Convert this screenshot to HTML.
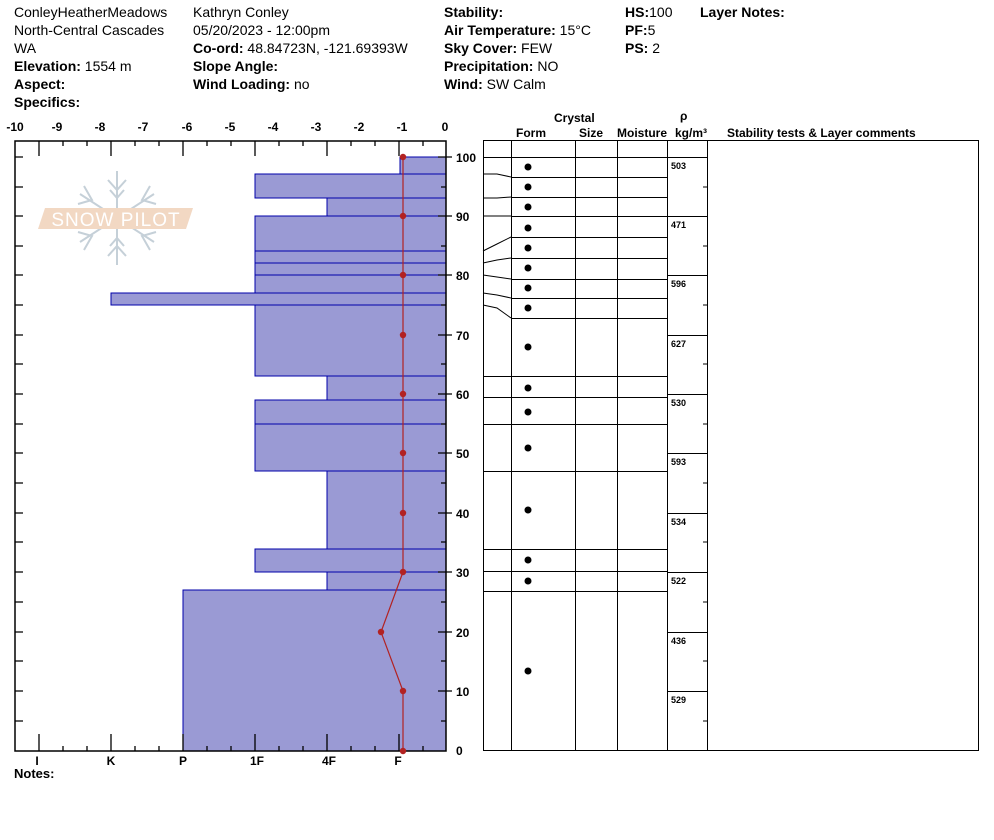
<!DOCTYPE html>
<html><head><meta charset="utf-8"><style>
html,body{margin:0;padding:0;background:#fff;}
svg{display:block;}
text{font-family:"Liberation Sans",Arial,sans-serif;fill:#000;}
.h{font-size:14px;}
.b{font-weight:bold;}
.t{font-size:12px;font-weight:bold;}
.s{font-size:9px;font-weight:bold;}
</style></head><body>
<svg width="994" height="840" viewBox="0 0 994 840" xmlns="http://www.w3.org/2000/svg">
<g class="h">
<text x="14" y="17" class="h">ConleyHeatherMeadows</text>
<text x="14" y="35" class="h">North-Central Cascades</text>
<text x="14" y="53" class="h">WA</text>
<text x="14" y="71" class="h"><tspan class="b">Elevation:</tspan> 1554 m</text>
<text x="14" y="89" class="h b">Aspect:</text>
<text x="14" y="107" class="h b">Specifics:</text>
<text x="193" y="17" class="h">Kathryn Conley</text>
<text x="193" y="35" class="h">05/20/2023 - 12:00pm</text>
<text x="193" y="53" class="h"><tspan class="b">Co-ord:</tspan> 48.84723N, -121.69393W</text>
<text x="193" y="71" class="h b">Slope Angle:</text>
<text x="193" y="89" class="h"><tspan class="b">Wind Loading:</tspan> no</text>
<text x="444" y="17" class="h b">Stability:</text>
<text x="444" y="35" class="h"><tspan class="b">Air Temperature:</tspan> 15°C</text>
<text x="444" y="53" class="h"><tspan class="b">Sky Cover:</tspan> FEW</text>
<text x="444" y="71" class="h"><tspan class="b">Precipitation:</tspan> NO</text>
<text x="444" y="89" class="h"><tspan class="b">Wind:</tspan>  SW Calm</text>
<text x="625" y="17" class="h"><tspan class="b">HS:</tspan>100</text>
<text x="625" y="35" class="h"><tspan class="b">PF:</tspan>5</text>
<text x="625" y="53" class="h"><tspan class="b">PS:</tspan> 2</text>
<text x="700" y="17" class="h b">Layer Notes:</text>
</g>

<g stroke="#c5d0d8" stroke-width="2" fill="none">
<line x1="117" y1="171" x2="117" y2="265"/>
<line x1="80" y1="194" x2="154" y2="242"/>
<line x1="80" y1="242" x2="154" y2="194"/>
<path d="M108 180 L117 190 L126 180 M110 190 L117 198 L124 190 M108 256 L117 246 L126 256 M110 246 L117 238 L124 246"/>
<path d="M84 186 L92 200 L78 204 M150 186 L142 200 L156 204 M84 250 L92 236 L78 232 M150 250 L142 236 L156 232"/>
</g>
<polygon points="45,208 193,208 186,229 38,229" fill="#f2d8c3"/>
<text x="116" y="226" text-anchor="middle" style="font-size:19px;fill:#fff;letter-spacing:1px;">SNOW PILOT</text>

<g fill="#9a9ad4" stroke="#0000aa" stroke-width="1">
<rect x="400" y="157" width="46" height="17"/>
<rect x="255" y="174" width="191" height="24"/>
<rect x="327" y="198" width="119" height="18"/>
<rect x="255" y="216" width="191" height="35"/>
<rect x="255" y="251" width="191" height="12"/>
<rect x="255" y="263" width="191" height="12"/>
<rect x="255" y="275" width="191" height="18"/>
<rect x="111" y="293" width="335" height="12"/>
<rect x="255" y="305" width="191" height="71"/>
<rect x="327" y="376" width="119" height="24"/>
<rect x="255" y="400" width="191" height="24"/>
<rect x="255" y="424" width="191" height="47"/>
<rect x="327" y="471" width="119" height="78"/>
<rect x="255" y="549" width="191" height="23"/>
<rect x="327" y="572" width="119" height="18"/>
<rect x="183" y="590" width="263" height="161"/>
</g>

<g stroke="#000" stroke-width="1.5" fill="none">
<path d="M15 141 L446 141 L446 751 L15 751 Z"/>
</g>
<g stroke="#000" stroke-width="1.3">
<path d="M39 141v15M111 141v15M183 141v15M255 141v15M327 141v15M399 141v15"/>
<path d="M63 141v5M87 141v5M135 141v5M159 141v5M207 141v5M231 141v5M279 141v5M303 141v5M351 141v5M375 141v5M423 141v5"/>
<path d="M39 751v-17M111 751v-17M183 751v-17M255 751v-17M327 751v-17M399 751v-17"/>
<path d="M63 751v-5M87 751v-5M135 751v-5M159 751v-5M207 751v-5M231 751v-5M279 751v-5M303 751v-5M351 751v-5M375 751v-5M423 751v-5"/>
<path d="M15 157h8M15 187h8M15 216h8M15 246h8M15 275h8M15 305h8M15 335h8M15 364h8M15 394h8M15 424h8M15 453h8M15 483h8M15 513h8M15 542h8M15 572h8M15 602h8M15 632h8M15 661h8M15 691h8M15 721h8"/>
<path d="M438 157h14M438 216h14M438 275h14M438 335h14M438 394h14M438 453h14M438 513h14M438 572h14M438 632h14M438 691h14"/>
<path d="M441 187h5M441 246h5M441 305h5M441 364h5M441 424h5M441 483h5M441 542h5M441 602h5M441 661h5M441 721h5"/>
</g>
<g text-anchor="middle">
<text x="15" y="131" class="t">-10</text><text x="57" y="131" class="t">-9</text><text x="100" y="131" class="t">-8</text><text x="143" y="131" class="t">-7</text><text x="187" y="131" class="t">-6</text><text x="230" y="131" class="t">-5</text><text x="273" y="131" class="t">-4</text><text x="316" y="131" class="t">-3</text><text x="359" y="131" class="t">-2</text><text x="402" y="131" class="t">-1</text><text x="445" y="131" class="t">0</text>
</g>
<g>
<text x="456" y="162" class="t">100</text><text x="456" y="221" class="t">90</text><text x="456" y="280" class="t">80</text><text x="456" y="340" class="t">70</text><text x="456" y="399" class="t">60</text><text x="456" y="458" class="t">50</text><text x="456" y="518" class="t">40</text><text x="456" y="577" class="t">30</text><text x="456" y="637" class="t">20</text><text x="456" y="696" class="t">10</text><text x="456" y="755" class="t">0</text>
</g>
<g text-anchor="middle">
<text x="37" y="765" class="t">I</text><text x="111" y="765" class="t">K</text><text x="183" y="765" class="t">P</text><text x="257" y="765" class="t">1F</text><text x="329" y="765" class="t">4F</text><text x="398" y="765" class="t">F</text>
</g>
<text x="14" y="778" class="h b" style="font-size:13px">Notes:</text>

<polyline points="403,157 403,216 403,275 403,335 403,394 403,453 403,513 403,572 381,632 403,691 403,751" fill="none" stroke="#b22222" stroke-width="1.2"/>
<g fill="#b22222">
<circle cx="403" cy="157" r="3.2"/><circle cx="403" cy="216" r="3.2"/><circle cx="403" cy="275" r="3.2"/><circle cx="403" cy="335" r="3.2"/><circle cx="403" cy="394" r="3.2"/><circle cx="403" cy="453" r="3.2"/><circle cx="403" cy="513" r="3.2"/><circle cx="403" cy="572" r="3.2"/><circle cx="381" cy="632" r="3.2"/><circle cx="403" cy="691" r="3.2"/><circle cx="403" cy="751" r="3.2"/>
</g>

<g>
<text x="554" y="122" class="t">Crystal</text>
<text x="516" y="137" class="t">Form</text>
<text x="579" y="137" class="t">Size</text>
<text x="617" y="137" class="t">Moisture</text>
<text x="675" y="137" class="t">kg/m³</text>
<text x="680" y="120" class="t">ρ</text>
<text x="727" y="137" class="t">Stability tests &amp; Layer comments</text>
</g>
<g stroke="#000" stroke-width="1" fill="none">
<rect x="483.5" y="140.5" width="495" height="610"/>
<path d="M511.5 140v611M575.5 140v611M617.5 140v611M667.5 140v611M707.5 140v611"/>
<path d="M483 157.5h224"/>
<path d="M511 177.5h156M511 197.5h156M511 216.5h156M511 237.5h156M511 258.5h156M511 279.5h156M511 298.5h156M511 318.5h156M483 376.5h184M483 397.5h184M483 424.5h184M483 471.5h184M483 549.5h184M483 571.5h184M483 591.5h184"/>
<path d="M483 174 L497 174 L511 177M483 198 L497 198 L511 197M483 216 L511 216M483 251 L497 244 L511 237M483 263 L497 260 L511 258M483 275 L497 277 L511 279M483 293 L497 295 L511 298M483 305 L497 308 L511 318"/>
<path d="M667 216.5h40M667 275.5h40M667 335.5h40M667 394.5h40M667 453.5h40M667 513.5h40M667 572.5h40M667 632.5h40M667 691.5h40"/>
<path d="M703 187h4M703 246h4M703 305h4M703 364h4M703 424h4M703 483h4M703 542h4M703 602h4M703 661h4M703 721h4"/>
</g>
<g>
<text x="671" y="169" class="s">503</text><text x="671" y="228" class="s">471</text><text x="671" y="287" class="s">596</text><text x="671" y="347" class="s">627</text><text x="671" y="406" class="s">530</text><text x="671" y="465" class="s">593</text><text x="671" y="525" class="s">534</text><text x="671" y="584" class="s">522</text><text x="671" y="644" class="s">436</text><text x="671" y="703" class="s">529</text>
</g>
<g fill="#000">
<circle cx="528" cy="167" r="3.5"/><circle cx="528" cy="187" r="3.5"/><circle cx="528" cy="207" r="3.5"/><circle cx="528" cy="228" r="3.5"/><circle cx="528" cy="248" r="3.5"/><circle cx="528" cy="268" r="3.5"/><circle cx="528" cy="288" r="3.5"/><circle cx="528" cy="308" r="3.5"/><circle cx="528" cy="347" r="3.5"/><circle cx="528" cy="388" r="3.5"/><circle cx="528" cy="412" r="3.5"/><circle cx="528" cy="448" r="3.5"/><circle cx="528" cy="510" r="3.5"/><circle cx="528" cy="560" r="3.5"/><circle cx="528" cy="581" r="3.5"/><circle cx="528" cy="671" r="3.5"/>
</g>
</svg>
</body></html>
